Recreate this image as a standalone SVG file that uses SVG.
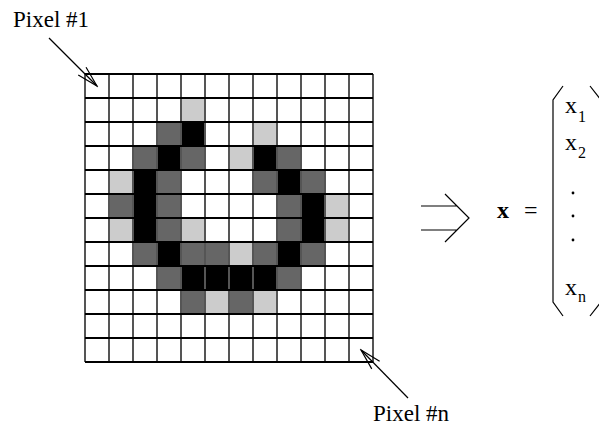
<svg xmlns="http://www.w3.org/2000/svg" width="599" height="430" viewBox="0 0 599 430">
  <style>
    text { font-family: "Liberation Serif", "Times New Roman", serif; fill: #000; }
    .lbl { font-size: 23px; }
    .var { font-size: 24px; }
    .sub { font-size: 16px; }
    .d { fill: #666; }
    .b { fill: #000; }
    .l { fill: #ccc; }
    .hl { stroke: #000; stroke-width: 1.8; fill: none; }
    .vl { stroke: #555; stroke-width: 2; fill: none; }
    .ln { stroke: #000; stroke-width: 1.2; fill: none; }
  </style>
  <defs>
    <marker id="open" markerUnits="userSpaceOnUse" markerWidth="24" markerHeight="14" viewBox="0 0 24 14" refX="22" refY="7" orient="auto">
      <path d="M1,1.5 L22,7 L1,12.5" fill="none" stroke="#000" stroke-width="1.2"/>
    </marker>
  </defs>
  <rect width="599" height="430" fill="#fff"/>

  <!-- 12x12 pixel grid, 24px cells, origin (85,74) -->
  <g id="grid">
    <rect x="85" y="74" width="288" height="288" fill="#fff"/>
    <!-- row 1 -->
    <rect class="l" x="181" y="98" width="24" height="24"/>
    <!-- row 2 -->
    <rect class="d" x="157" y="122" width="24" height="24"/>
    <rect class="b" x="181" y="122" width="24" height="24"/>
    <rect class="l" x="253" y="122" width="24" height="24"/>
    <!-- row 3 -->
    <rect class="d" x="133" y="146" width="24" height="24"/>
    <rect class="b" x="157" y="146" width="24" height="24"/>
    <rect class="d" x="181" y="146" width="24" height="24"/>
    <rect class="l" x="229" y="146" width="24" height="24"/>
    <rect class="b" x="253" y="146" width="24" height="24"/>
    <rect class="d" x="277" y="146" width="24" height="24"/>
    <!-- row 4 -->
    <rect class="l" x="109" y="170" width="24" height="24"/>
    <rect class="b" x="133" y="170" width="24" height="24"/>
    <rect class="d" x="157" y="170" width="24" height="24"/>
    <rect class="d" x="253" y="170" width="24" height="24"/>
    <rect class="b" x="277" y="170" width="24" height="24"/>
    <rect class="d" x="301" y="170" width="24" height="24"/>
    <!-- row 5 -->
    <rect class="d" x="109" y="194" width="24" height="24"/>
    <rect class="b" x="133" y="194" width="24" height="24"/>
    <rect class="d" x="157" y="194" width="24" height="24"/>
    <rect class="d" x="277" y="194" width="24" height="24"/>
    <rect class="b" x="301" y="194" width="24" height="24"/>
    <rect class="l" x="325" y="194" width="24" height="24"/>
    <!-- row 6 -->
    <rect class="l" x="109" y="218" width="24" height="24"/>
    <rect class="b" x="133" y="218" width="24" height="24"/>
    <rect class="d" x="157" y="218" width="24" height="24"/>
    <rect class="l" x="181" y="218" width="24" height="24"/>
    <rect class="d" x="277" y="218" width="24" height="24"/>
    <rect class="b" x="301" y="218" width="24" height="24"/>
    <rect class="l" x="325" y="218" width="24" height="24"/>
    <!-- row 7 -->
    <rect class="d" x="133" y="242" width="24" height="24"/>
    <rect class="b" x="157" y="242" width="24" height="24"/>
    <rect class="d" x="181" y="242" width="24" height="24"/>
    <rect class="d" x="205" y="242" width="24" height="24"/>
    <rect class="l" x="229" y="242" width="24" height="24"/>
    <rect class="d" x="253" y="242" width="24" height="24"/>
    <rect class="b" x="277" y="242" width="24" height="24"/>
    <rect class="d" x="301" y="242" width="24" height="24"/>
    <!-- row 8 -->
    <rect class="d" x="157" y="266" width="24" height="24"/>
    <rect class="b" x="181" y="266" width="96" height="24"/>
    <rect class="d" x="277" y="266" width="24" height="24"/>
    <!-- row 9 -->
    <rect class="d" x="181" y="290" width="24" height="24"/>
    <rect class="l" x="205" y="290" width="24" height="24"/>
    <rect class="d" x="229" y="290" width="24" height="24"/>
    <rect class="l" x="253" y="290" width="24" height="24"/>
    <!-- grid lines -->
    <path class="vl" d="M85,74V362 M109,74V362 M133,74V362 M157,74V362 M181,74V362 M205,74V362 M229,74V362 M253,74V362 M277,74V362 M301,74V362 M325,74V362 M349,74V362 M373,74V362"/>
    <path class="hl" d="M85,74H373 M85,98H373 M85,122H373 M85,146H373 M85,170H373 M85,194H373 M85,218H373 M85,242H373 M85,266H373 M85,290H373 M85,314H373 M85,338H373 M85,362H373"/>
  </g>

  <g id="label-pixel-1">
    <text class="lbl" x="13" y="27">Pixel #1</text>
  </g>
  <g id="label-pixel-n">
    <text class="lbl" x="373" y="421">Pixel #n</text>
  </g>

  <!-- implication arrow -->
  <g id="implies">
    <path class="ln" d="M421,206H457 M421,230H457 M445,194L469,218L445,242"/>
  </g>

  <!-- column vector x = (x1, x2, ..., xn) -->
  <g id="vector">
    <text x="497" y="218" style="font-size:24px;font-weight:bold">x</text>
    <text x="524" y="218" style="font-size:24px">=</text>
    <path class="ln" d="M563,86L553,100V302L563,316"/>
    <path class="ln" d="M590,86L601,100V302L590,316"/>
    <text class="var" x="565" y="113">x<tspan class="sub" dx="1" dy="9">1</tspan></text>
    <text class="var" x="565" y="150">x<tspan class="sub" dx="1" dy="8">2</tspan></text>
    <circle cx="573" cy="193" r="1.4"/>
    <circle cx="573" cy="216" r="1.4"/>
    <circle cx="573" cy="240" r="1.4"/>
    <text class="var" x="565" y="295">x<tspan class="sub" dx="1" dy="7">n</tspan></text>
  </g>

  <g id="connectors">
    <line class="ln" x1="49" y1="38" x2="97" y2="86" marker-end="url(#open)"/>
    <line class="ln" x1="408" y1="398" x2="361" y2="350" marker-end="url(#open)"/>
  </g>
</svg>
